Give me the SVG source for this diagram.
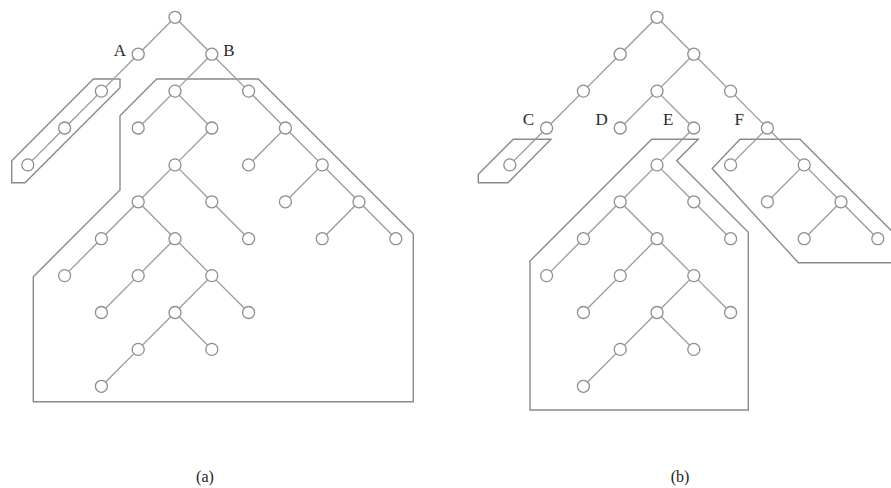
<svg xmlns="http://www.w3.org/2000/svg" width="891" height="488" viewBox="0 0 891 488">
<style>
.e{stroke:#9a9a9a;stroke-width:1.3;fill:none}
.n circle{fill:#fff;stroke:#8e8e8e;stroke-width:1.3}
.h{fill:none;stroke:#8a8a8a;stroke-width:1.4;stroke-linejoin:miter}
.lbl{font-family:"Liberation Serif","Times New Roman",serif;font-size:17px;fill:#2a2a2a;text-anchor:middle}
.cap{font-family:"Liberation Serif","Times New Roman",serif;font-size:16px;fill:#222;text-anchor:middle}
</style>
<rect width="891" height="488" fill="#fff"/>
<g id="hulls">
<polygon class="h" points="93.3,79 11.7,160.7 11.7,182.7 25,182.7 120,87.7 120,79"/>
<polygon class="h" points="156.7,79 120,115.7 120,190 33.3,276.7 33.3,401.7 413.3,401.7 413.3,234 258.3,79"/>
<polygon class="h" points="513.3,139.3 478.3,174.3 478.3,182.7 508,182.7 551,139.3"/>
<polygon class="h" points="651.7,139.3 530,261 530,410 748.3,410 748.3,232.3 676.7,160.7 698.3,139.3"/>
<polygon class="h" points="740,139.3 712.2,168.5 798.3,262.7 910,262.7 910,249.3 800,139.3"/>
</g>
<g id="connectors">
<g id="edges-a" class="e">
<line x1="175" y1="17.3" x2="138.2" y2="54.2"/>
<line x1="175" y1="17.3" x2="211.8" y2="54.2"/>
<line x1="138.2" y1="54.2" x2="101.4" y2="91.1"/>
<line x1="101.4" y1="91.1" x2="64.6" y2="128"/>
<line x1="64.6" y1="128" x2="27.8" y2="164.9"/>
<line x1="211.8" y1="54.2" x2="175" y2="91.1"/>
<line x1="211.8" y1="54.2" x2="248.6" y2="91.1"/>
<line x1="175" y1="91.1" x2="138.2" y2="128"/>
<line x1="175" y1="91.1" x2="211.8" y2="128"/>
<line x1="211.8" y1="128" x2="175" y2="164.9"/>
<line x1="175" y1="164.9" x2="138.2" y2="201.8"/>
<line x1="175" y1="164.9" x2="211.8" y2="201.8"/>
<line x1="138.2" y1="201.8" x2="101.4" y2="238.7"/>
<line x1="138.2" y1="201.8" x2="175" y2="238.7"/>
<line x1="211.8" y1="201.8" x2="248.6" y2="238.7"/>
<line x1="101.4" y1="238.7" x2="64.6" y2="275.6"/>
<line x1="175" y1="238.7" x2="138.2" y2="275.6"/>
<line x1="175" y1="238.7" x2="211.8" y2="275.6"/>
<line x1="138.2" y1="275.6" x2="101.4" y2="312.5"/>
<line x1="211.8" y1="275.6" x2="175" y2="312.5"/>
<line x1="211.8" y1="275.6" x2="248.6" y2="312.5"/>
<line x1="175" y1="312.5" x2="138.2" y2="349.4"/>
<line x1="175" y1="312.5" x2="211.8" y2="349.4"/>
<line x1="138.2" y1="349.4" x2="101.4" y2="386.3"/>
<line x1="248.6" y1="91.1" x2="285.4" y2="128"/>
<line x1="285.4" y1="128" x2="248.6" y2="164.9"/>
<line x1="285.4" y1="128" x2="322.2" y2="164.9"/>
<line x1="322.2" y1="164.9" x2="285.4" y2="201.8"/>
<line x1="322.2" y1="164.9" x2="359" y2="201.8"/>
<line x1="359" y1="201.8" x2="322.2" y2="238.7"/>
<line x1="359" y1="201.8" x2="395.8" y2="238.7"/>
</g>
<g id="edges-b" class="e" transform="translate(482,0)">
<line x1="175" y1="17.3" x2="138.2" y2="54.2"/>
<line x1="175" y1="17.3" x2="211.8" y2="54.2"/>
<line x1="138.2" y1="54.2" x2="101.4" y2="91.1"/>
<line x1="101.4" y1="91.1" x2="64.6" y2="128"/>
<line x1="64.6" y1="128" x2="27.8" y2="164.9"/>
<line x1="211.8" y1="54.2" x2="175" y2="91.1"/>
<line x1="211.8" y1="54.2" x2="248.6" y2="91.1"/>
<line x1="175" y1="91.1" x2="138.2" y2="128"/>
<line x1="175" y1="91.1" x2="211.8" y2="128"/>
<line x1="211.8" y1="128" x2="175" y2="164.9"/>
<line x1="175" y1="164.9" x2="138.2" y2="201.8"/>
<line x1="175" y1="164.9" x2="211.8" y2="201.8"/>
<line x1="138.2" y1="201.8" x2="101.4" y2="238.7"/>
<line x1="138.2" y1="201.8" x2="175" y2="238.7"/>
<line x1="211.8" y1="201.8" x2="248.6" y2="238.7"/>
<line x1="101.4" y1="238.7" x2="64.6" y2="275.6"/>
<line x1="175" y1="238.7" x2="138.2" y2="275.6"/>
<line x1="175" y1="238.7" x2="211.8" y2="275.6"/>
<line x1="138.2" y1="275.6" x2="101.4" y2="312.5"/>
<line x1="211.8" y1="275.6" x2="175" y2="312.5"/>
<line x1="211.8" y1="275.6" x2="248.6" y2="312.5"/>
<line x1="175" y1="312.5" x2="138.2" y2="349.4"/>
<line x1="175" y1="312.5" x2="211.8" y2="349.4"/>
<line x1="138.2" y1="349.4" x2="101.4" y2="386.3"/>
<line x1="248.6" y1="91.1" x2="285.4" y2="128"/>
<line x1="285.4" y1="128" x2="248.6" y2="164.9"/>
<line x1="285.4" y1="128" x2="322.2" y2="164.9"/>
<line x1="322.2" y1="164.9" x2="285.4" y2="201.8"/>
<line x1="322.2" y1="164.9" x2="359" y2="201.8"/>
<line x1="359" y1="201.8" x2="322.2" y2="238.7"/>
<line x1="359" y1="201.8" x2="395.8" y2="238.7"/>
</g>
</g>
<g id="nodes-a" class="n">
<g id="a-root"><circle cx="175" cy="17.3" r="6"/></g>
<g id="a-A"><circle cx="138.2" cy="54.2" r="6"/></g>
<g id="a-B"><circle cx="211.8" cy="54.2" r="6"/></g>
<g id="a-n4"><circle cx="101.4" cy="91.1" r="6"/></g>
<g id="a-n5"><circle cx="64.6" cy="128" r="6"/></g>
<g id="a-n6"><circle cx="27.8" cy="164.9" r="6"/></g>
<g id="a-n7"><circle cx="175" cy="91.1" r="6"/></g>
<g id="a-n8"><circle cx="248.6" cy="91.1" r="6"/></g>
<g id="a-n9"><circle cx="138.2" cy="128" r="6"/></g>
<g id="a-n10"><circle cx="211.8" cy="128" r="6"/></g>
<g id="a-n11"><circle cx="175" cy="164.9" r="6"/></g>
<g id="a-n12"><circle cx="138.2" cy="201.8" r="6"/></g>
<g id="a-n13"><circle cx="211.8" cy="201.8" r="6"/></g>
<g id="a-n14"><circle cx="101.4" cy="238.7" r="6"/></g>
<g id="a-n15"><circle cx="175" cy="238.7" r="6"/></g>
<g id="a-n16"><circle cx="248.6" cy="238.7" r="6"/></g>
<g id="a-n17"><circle cx="64.6" cy="275.6" r="6"/></g>
<g id="a-n18"><circle cx="138.2" cy="275.6" r="6"/></g>
<g id="a-n19"><circle cx="211.8" cy="275.6" r="6"/></g>
<g id="a-n20"><circle cx="101.4" cy="312.5" r="6"/></g>
<g id="a-n21"><circle cx="175" cy="312.5" r="6"/></g>
<g id="a-n22"><circle cx="248.6" cy="312.5" r="6"/></g>
<g id="a-n23"><circle cx="138.2" cy="349.4" r="6"/></g>
<g id="a-n24"><circle cx="211.8" cy="349.4" r="6"/></g>
<g id="a-n25"><circle cx="101.4" cy="386.3" r="6"/></g>
<g id="a-n26"><circle cx="285.4" cy="128" r="6"/></g>
<g id="a-n27"><circle cx="248.6" cy="164.9" r="6"/></g>
<g id="a-n28"><circle cx="322.2" cy="164.9" r="6"/></g>
<g id="a-n29"><circle cx="285.4" cy="201.8" r="6"/></g>
<g id="a-n30"><circle cx="359" cy="201.8" r="6"/></g>
<g id="a-n31"><circle cx="322.2" cy="238.7" r="6"/></g>
<g id="a-n32"><circle cx="395.8" cy="238.7" r="6"/></g>
</g>
<g id="nodes-b" class="n" transform="translate(482,0)">
<g id="b-root"><circle cx="175" cy="17.3" r="6"/></g>
<g id="b-n2"><circle cx="138.2" cy="54.2" r="6"/></g>
<g id="b-n3"><circle cx="211.8" cy="54.2" r="6"/></g>
<g id="b-n4"><circle cx="101.4" cy="91.1" r="6"/></g>
<g id="b-C"><circle cx="64.6" cy="128" r="6"/></g>
<g id="b-n6"><circle cx="27.8" cy="164.9" r="6"/></g>
<g id="b-n7"><circle cx="175" cy="91.1" r="6"/></g>
<g id="b-n8"><circle cx="248.6" cy="91.1" r="6"/></g>
<g id="b-D"><circle cx="138.2" cy="128" r="6"/></g>
<g id="b-E"><circle cx="211.8" cy="128" r="6"/></g>
<g id="b-n11"><circle cx="175" cy="164.9" r="6"/></g>
<g id="b-n12"><circle cx="138.2" cy="201.8" r="6"/></g>
<g id="b-n13"><circle cx="211.8" cy="201.8" r="6"/></g>
<g id="b-n14"><circle cx="101.4" cy="238.7" r="6"/></g>
<g id="b-n15"><circle cx="175" cy="238.7" r="6"/></g>
<g id="b-n16"><circle cx="248.6" cy="238.7" r="6"/></g>
<g id="b-n17"><circle cx="64.6" cy="275.6" r="6"/></g>
<g id="b-n18"><circle cx="138.2" cy="275.6" r="6"/></g>
<g id="b-n19"><circle cx="211.8" cy="275.6" r="6"/></g>
<g id="b-n20"><circle cx="101.4" cy="312.5" r="6"/></g>
<g id="b-n21"><circle cx="175" cy="312.5" r="6"/></g>
<g id="b-n22"><circle cx="248.6" cy="312.5" r="6"/></g>
<g id="b-n23"><circle cx="138.2" cy="349.4" r="6"/></g>
<g id="b-n24"><circle cx="211.8" cy="349.4" r="6"/></g>
<g id="b-n25"><circle cx="101.4" cy="386.3" r="6"/></g>
<g id="b-F"><circle cx="285.4" cy="128" r="6"/></g>
<g id="b-n27"><circle cx="248.6" cy="164.9" r="6"/></g>
<g id="b-n28"><circle cx="322.2" cy="164.9" r="6"/></g>
<g id="b-n29"><circle cx="285.4" cy="201.8" r="6"/></g>
<g id="b-n30"><circle cx="359" cy="201.8" r="6"/></g>
<g id="b-n31"><circle cx="322.2" cy="238.7" r="6"/></g>
<g id="b-n32"><circle cx="395.8" cy="238.7" r="6"/></g>
</g>
<g id="labels">
<text class="lbl" x="120" y="55.5">A</text>
<text class="lbl" x="229" y="55.5">B</text>
<text class="lbl" x="528.3" y="124.5">C</text>
<text class="lbl" x="601.7" y="124.5">D</text>
<text class="lbl" x="668.3" y="124.5">E</text>
<text class="lbl" x="739.3" y="124.5">F</text>
<text class="cap" x="205" y="482">(a)</text>
<text class="cap" x="680" y="482">(b)</text>
</g>
</svg>
